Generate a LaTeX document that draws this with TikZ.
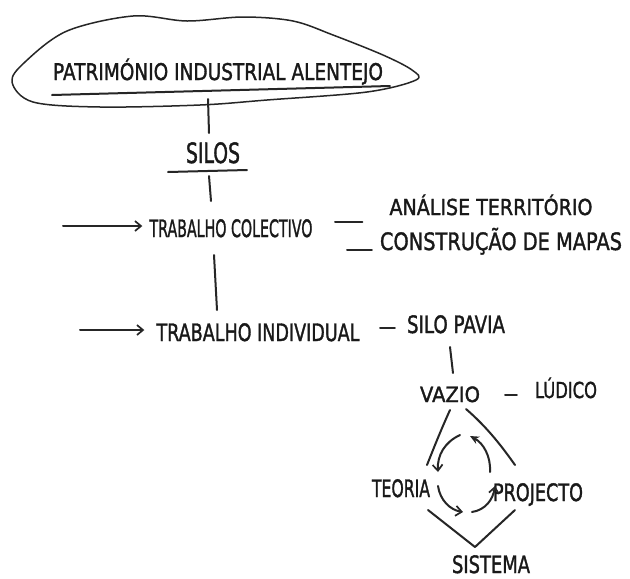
\documentclass[tikz,border=0pt]{standalone}
\usepackage{fontspec}
\usepackage{graphicx}
\setmainfont{DejaVu Sans}[AutoFakeBold=1.6]
\usetikzlibrary{arrows.meta}
\newlength\hwlen
\newcommand\hwtxt[3]{\fontsize{#2}{#2}\selectfont\bfseries\settowidth\hwlen{#3}\pgfmathsetmacro\hwfac{#1/\hwlen}\scalebox{\hwfac}[1]{#3}}
\tikzset{
  lbl/.style={inner sep=0pt, anchor=base, text=black!90},
  pen/.style={line width=2pt, line cap=round, line join=round, black!85},
  thinpen/.style={line width=1.5pt, line cap=round, line join=round, black!85},
  barb/.style={-{Straight Barb[length=6pt,width=10pt,line width=1.7pt]}},
  headarrow/.style={-{Stealth[length=9pt,width=8pt]}},
}
\begin{document}
\begin{tikzpicture}[x=1pt,y=-1pt]
\useasboundingbox[fill=white] (0,0) rectangle (630,579);

% cloud / ellipse around the title
\draw[thinpen] plot[smooth cycle, tension=0.55] coordinates {
  (12,82) (25,62) (67,31) (133,16) (187,21) (243,17) (293,21) (333,35)
  (383,55) (412,70) (416,80) (367,92) (267,100) (200,105) (100,107) (33,102)};

% texts
\node[lbl] (title) at (218,80) {\hwtxt{330}{23}{PATRIMÓNIO INDUSTRIAL ALENTEJO}};
\node[lbl] (silos) at (213,163) {\hwtxt{54}{28}{SILOS}};
\node[lbl] (tcol) at (231,237) {\hwtxt{163}{24}{TRABALHO COLECTIVO}};
\node[lbl] (anal) at (491,215) {\hwtxt{203}{22}{ANÁLISE TERRITÓRIO}};
\node[lbl] (const) at (501,250) {\hwtxt{242}{24}{CONSTRUÇÃO DE MAPAS}};
\node[lbl] (tind) at (258,341) {\hwtxt{203}{24}{TRABALHO INDIVIDUAL}};
\node[lbl] (silop) at (456,333) {\hwtxt{98}{24}{SILO PAVIA}};
\node[lbl] (vazio) at (450,402) {\hwtxt{60}{21}{VAZIO}};
\node[lbl] (ludico) at (566,398) {\hwtxt{62}{22}{LÚDICO}};
\node[lbl] (teoria) at (401,497) {\hwtxt{58}{24}{TEORIA}};
\node[lbl] (projecto) at (538,501) {\hwtxt{90}{24}{PROJECTO}};
\node[lbl] (sistema) at (491,573) {\hwtxt{78}{24}{SISTEMA}};

% underlines
\coordinate (tu1) at (52,95);
\coordinate (tu2) at (390,86);
\draw[pen] (tu1) -- (tu2);
\coordinate (su1) at (168,172);
\coordinate (su2) at (247,170);
\draw[pen] (su1) -- (su2);

% connectors
\coordinate (ellbot) at (208,99);
\coordinate (silostop) at (209,133);
\draw[pen] (ellbot) -- (silostop);

\coordinate (sbot) at (209,176);
\coordinate (tctop) at (211,201);
\draw[pen] (sbot) -- (tctop);

\coordinate (a1) at (63,226);
\draw[pen,barb,shorten >=7pt] (a1) -- (tcol.west |- a1);

\coordinate (d1) at (335,222);
\draw[pen,shorten >=27pt] (d1) -- (anal.west |- d1);
\coordinate (d2) at (347,250);
\draw[pen,shorten >=8pt] (d2) -- (const.west |- d2);

\coordinate (tcbot) at (214,255);
\coordinate (titop) at (217,310);
\draw[pen] (tcbot) -- (titop);

\coordinate (a2) at (80,330);
\draw[pen,barb,shorten >=12pt] (a2) -- (tind.west |- a2);

\coordinate (d3) at (380,328);
\draw[pen,shorten >=12pt] (d3) -- (silop.west |- d3);

\coordinate (spb) at (450,347);
\coordinate (vzt) at (453,373);
\draw[pen] (spb) -- (vzt);

\coordinate (d4) at (505,395);
\draw[pen,shorten >=18pt] (d4) -- (ludico.west |- d4);

% diamond around the cycle
\coordinate (vl) at (450,410);
\coordinate (vr) at (466,409);
\coordinate (dl) at (427,465);
\coordinate (dr) at (515,465);
\draw[pen] (vl) .. controls (440,432) and (433,450) .. (dl);
\draw[pen] (vr) .. controls (488,428) and (503,448) .. (dr);
\coordinate (bl) at (428,510);
\coordinate (bb) at (475,547);
\coordinate (br) at (515,510);
\draw[pen] (bl) -- (bb) -- (br);

% cycle arrows
\coordinate (c1) at (460,435);
\coordinate (c2) at (438,472);
\coordinate (c3) at (438,486);
\coordinate (c4) at (463,512);
\coordinate (c5) at (472,512);
\coordinate (c6) at (495,486);
\coordinate (c7) at (490,472);
\coordinate (c8) at (470,436);
\draw[pen,barb] (c1) .. controls (445,442) and (437,455) .. (c2);
\draw[pen,barb] (c3) .. controls (440,500) and (450,510) .. (c4);
\draw[pen,barb] (c5) .. controls (485,510) and (493,500) .. (c6);
\draw[pen,headarrow] (c7) .. controls (491,456) and (483,443) .. (c8);
\end{tikzpicture}
\end{document}
